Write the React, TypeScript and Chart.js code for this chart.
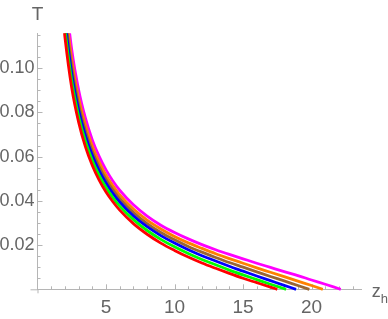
import React, { useEffect, useRef } from "react";
import { Chart, registerables } from "chart.js";

Chart.register(...registerables);

// Shared z_h grid (x values)
const zGrid = [1.9, 2, 2.5, 3, 3.5, 4, 4.5, 5, 5.5, 6, 7, 8, 9, 10, 11, 12, 13, 14, 15, 16, 17];

// Temperature values read on the shared grid
const redT = [0.1202, 0.1141, 0.0910, 0.0756, 0.0644, 0.0560, 0.0494, 0.0440, 0.0396, 0.0358, 0.0297, 0.0249, 0.0209, 0.0176, 0.0146, 0.0119, 0.0095, 0.0072, 0.0050, 0.0030, 0.0010];
const greenT = [0.1242, 0.1180, 0.0942, 0.0783, 0.0669, 0.0583, 0.0515, 0.0460, 0.0415, 0.0376, 0.0315, 0.0266, 0.0226, 0.0192, 0.0162, 0.0135, 0.0111, 0.0087, 0.0065, 0.0044, 0.0023];
const blueT = [0.1286, 0.1222, 0.0976, 0.0812, 0.0695, 0.0606, 0.0537, 0.0481, 0.0434, 0.0395, 0.0332, 0.0283, 0.0243, 0.0209, 0.0179, 0.0152, 0.0128, 0.0104, 0.0082, 0.0060, 0.0039];
const brownT = [0.1321, 0.1255, 0.1004, 0.0836, 0.0715, 0.0624, 0.0554, 0.0497, 0.0450, 0.0410, 0.0347, 0.0297, 0.0257, 0.0224, 0.0194, 0.0168, 0.0144, 0.0121, 0.0100, 0.0079, 0.0058];
const orangeT = [0.1367, 0.1299, 0.1039, 0.0865, 0.0741, 0.0647, 0.0575, 0.0516, 0.0468, 0.0427, 0.0363, 0.0313, 0.0273, 0.0239, 0.0210, 0.0185, 0.0161, 0.0139, 0.0118, 0.0097, 0.0077];
const magentaT = [0.1426, 0.1355, 0.1084, 0.0903, 0.0774, 0.0676, 0.0601, 0.0540, 0.0490, 0.0448, 0.0382, 0.0331, 0.0290, 0.0257, 0.0228, 0.0202, 0.0179, 0.0158, 0.0138, 0.0118, 0.0099];

// Tails beyond the shared grid, down to T = 0
const redTailZ = [17.5];
const redTailT = [0];
const greenTailZ = [17.6, 18.14];
const greenTailT = [0.0011, 0];
const blueTailZ = [18, 18.87];
const blueTailT = [0.0018, 0];
const brownTailZ = [18, 19, 19.84];
const brownTailT = [0.0038, 0.0017, 0];
const orangeTailZ = [18, 19, 20, 20.82];
const orangeTailT = [0.0057, 0.0037, 0.0017, 0];
const magentaTailZ = [18, 19, 20, 21, 21.6, 22.13];
const magentaTailT = [0.0080, 0.0062, 0.0042, 0.0023, 0.0011, 0];

const seriesColors = ["#ff0000", "#00ff00", "#0000ff", "#996633", "#ff8000", "#ff00ff"];

// Axis ticks
const xMajorTicks = [5, 10, 15, 20];
const xMinorTicks = [1, 2, 3, 4, 6, 7, 8, 9, 11, 12, 13, 14, 16, 17, 18, 19, 21, 22, 23];
const yMajorTicks = [0.02, 0.04, 0.06, 0.08, 0.1];
const yMinorTicks = [0.005, 0.01, 0.015, 0.025, 0.03, 0.035, 0.045, 0.05, 0.055, 0.065, 0.07, 0.075, 0.085, 0.09, 0.095, 0.105, 0.11, 0.115];

const X_MIN = 0;
const X_MAX = 23.66;
const Y_MIN = 0;
const Y_MAX = 0.1158;

function build(gridT: number[], tailZ: number[], tailT: number[]) {
  const pts = zGrid.map((z, i) => ({ x: z, y: gridT[i] }));
  tailZ.forEach((z, i) => pts.push({ x: z, y: tailT[i] }));
  return pts;
}

const FONT = "'Liberation Sans', Arial, sans-serif";
const AXIS_COLOR = "#b5b5b5";
const TEXT_COLOR = "#656565";

export default function App() {
  const canvasRef = useRef<HTMLCanvasElement | null>(null);

  useEffect(() => {
    document.body.style.margin = "0";
    const canvas = canvasRef.current;
    if (!canvas) return;

    const seriesData = [
      build(redT, redTailZ, redTailT),
      build(greenT, greenTailZ, greenTailT),
      build(blueT, blueTailZ, blueTailT),
      build(brownT, brownTailZ, brownTailT),
      build(orangeT, orangeTailZ, orangeTailT),
      build(magentaT, magentaTailZ, magentaTailT),
    ];

    const axisPlugin = {
      id: "mmaAxes",
      beforeDatasetsDraw(chart: any) {
        const ctx = chart.ctx;
        const xs = chart.scales.x;
        const ys = chart.scales.y;
        const x0 = xs.getPixelForValue(0);
        const y0 = ys.getPixelForValue(0);
        ctx.save();
        ctx.strokeStyle = AXIS_COLOR;
        ctx.lineWidth = 1;
        ctx.beginPath();
        ctx.moveTo(x0 - 7, y0 + 0.5);
        ctx.lineTo(x0, y0 + 0.5);
        ctx.moveTo(x0 + 0.5, y0);
        ctx.lineTo(x0 + 0.5, y0 + 4);
        xMajorTicks.forEach((v) => {
          const p = Math.round(xs.getPixelForValue(v)) + 0.5;
          ctx.moveTo(p, y0);
          ctx.lineTo(p, y0 - 5);
        });
        xMinorTicks.forEach((v) => {
          const p = Math.round(xs.getPixelForValue(v)) + 0.5;
          ctx.moveTo(p, y0);
          ctx.lineTo(p, y0 - 3);
        });
        yMajorTicks.forEach((v) => {
          const p = Math.round(ys.getPixelForValue(v)) + 0.5;
          ctx.moveTo(x0, p);
          ctx.lineTo(x0 + 5, p);
        });
        yMinorTicks.forEach((v) => {
          const p = Math.round(ys.getPixelForValue(v)) + 0.5;
          ctx.moveTo(x0, p);
          ctx.lineTo(x0 + 3, p);
        });
        ctx.stroke();
        ctx.restore();
      },
      afterDraw(chart: any) {
        const ctx = chart.ctx;
        const area = chart.chartArea;
        ctx.save();
        ctx.fillStyle = TEXT_COLOR;
        ctx.textBaseline = "alphabetic";
        ctx.textAlign = "center";
        ctx.font = `19px ${FONT}`;
        ctx.fillText("T", area.left, 20);
        ctx.textAlign = "left";
        ctx.font = `18px ${FONT}`;
        ctx.fillText("z", area.right + 10, area.bottom + 8);
        ctx.font = `13px ${FONT}`;
        ctx.fillText("h", area.right + 19, area.bottom + 14);
        ctx.restore();
      },
    };

    const chart = new Chart(canvas, {
      type: "line",
      data: {
        datasets: seriesData.map((d, i) => ({
          data: d,
          borderColor: seriesColors[i],
          backgroundColor: seriesColors[i],
          borderWidth: 2.8,
          pointRadius: 0,
          fill: false,
          cubicInterpolationMode: "monotone" as const,
          clip: { left: 0, top: 0, right: 6, bottom: 3 },
        })),
      },
      options: {
        animation: false,
        responsive: true,
        maintainAspectRatio: false,
        layout: { padding: { top: 33.3, right: 26.3, left: 0, bottom: 0 } },
        plugins: { legend: { display: false }, tooltip: { enabled: false } },
        scales: {
          x: {
            type: "linear",
            min: X_MIN,
            max: X_MAX,
            grid: { display: false, drawTicks: false },
            border: { display: true, color: AXIS_COLOR, width: 1 },
            ticks: {
              stepSize: 5,
              autoSkip: false,
              includeBounds: false,
              maxRotation: 0,
              padding: 7,
              color: TEXT_COLOR,
              font: { family: FONT, size: 19 },
              callback: (v: any) => (v === 0 ? "" : String(v)),
            },
            afterFit: (s: any) => {
              s.height = 29.7;
            },
          },
          y: {
            type: "linear",
            min: Y_MIN,
            max: Y_MAX,
            grid: { display: false, drawTicks: false },
            border: { display: true, color: AXIS_COLOR, width: 1 },
            ticks: {
              stepSize: 0.02,
              autoSkip: false,
              includeBounds: false,
              padding: 3,
              color: TEXT_COLOR,
              font: { family: FONT, size: 18 },
              callback: (v: any) => (Math.abs(v) < 1e-9 ? "" : Number(v).toFixed(2)),
            },
            afterFit: (s: any) => {
              s.width = 37.5;
            },
          },
        },
      },
      plugins: [axisPlugin],
    });

    return () => chart.destroy();
  }, []);

  return (
    <div style={{ width: 388, height: 319, position: "relative" }}>
      <canvas ref={canvasRef} />
    </div>
  );
}
